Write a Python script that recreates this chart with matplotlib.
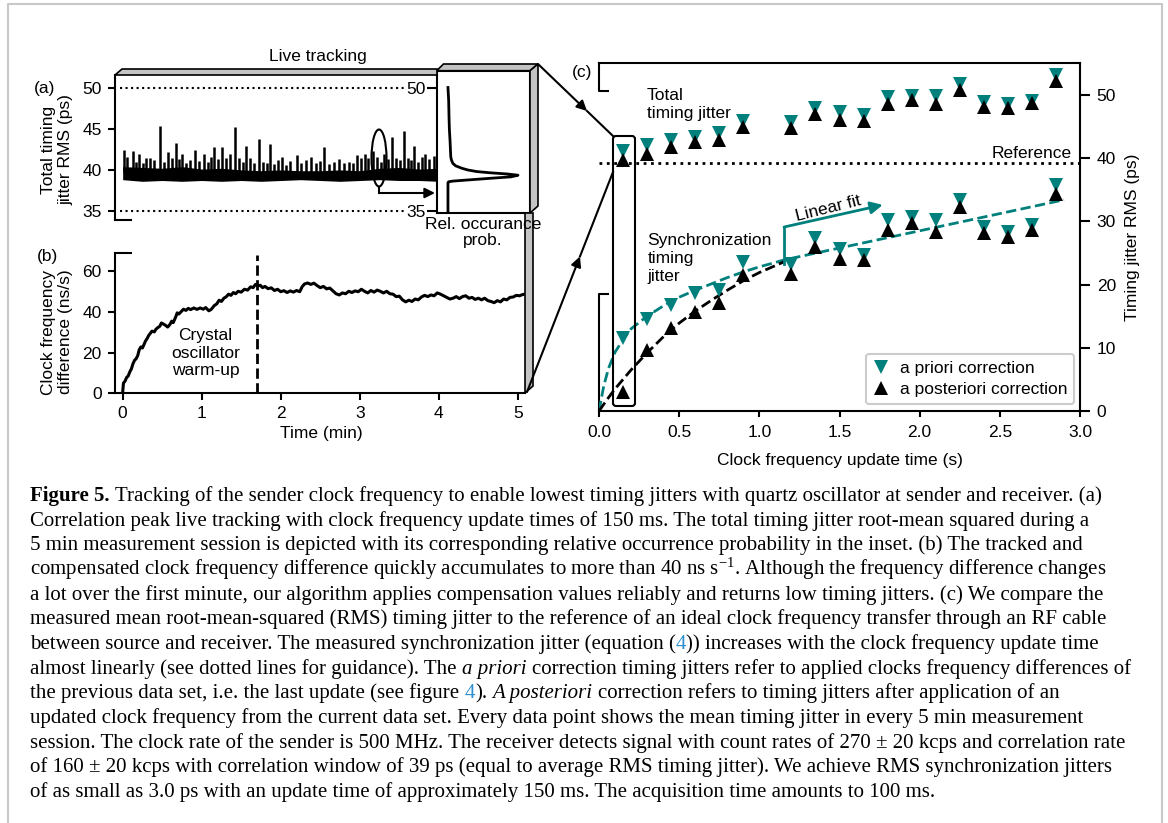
import matplotlib
matplotlib.use('Agg')
import matplotlib.pyplot as plt
from matplotlib.patches import Polygon, Ellipse, FancyBboxPatch

plt.rcParams['font.family'] = ['Liberation Sans', 'DejaVu Sans']
plt.rcParams['font.size'] = 12.5
plt.rcParams['axes.linewidth'] = 1.5
plt.rcParams['mathtext.fontset'] = 'custom'
plt.rcParams['mathtext.rm'] = 'Liberation Serif'
plt.rcParams['mathtext.it'] = 'Liberation Serif:italic'

TEAL = '#00807c'
GREY = '#c4c4c4'
LINK = '#2a8fd0'

# (a) live tracking, total timing jitter (ps) vs time (min)
spike_t = [0.02, 0.05, 0.13, 0.17, 0.21, 0.26, 0.30, 0.35, 0.40, 0.47, 0.52, 0.57, 0.62, 0.67, 0.71,
           0.75, 0.80, 0.85, 0.91, 0.96, 1.03, 1.08, 1.12, 1.16, 1.21, 1.26, 1.31, 1.36, 1.42, 1.47,
           1.52, 1.56, 1.61, 1.66, 1.72, 1.77, 1.82, 1.87, 1.92, 1.97, 2.02, 2.07, 2.12, 2.20, 2.26,
           2.32, 2.38, 2.44, 2.50, 2.55, 2.61, 2.67, 2.74, 2.80, 2.86, 2.92, 2.97, 3.02, 3.06, 3.11,
           3.17, 3.22, 3.27, 3.31, 3.36, 3.41, 3.46, 3.51, 3.56, 3.61, 3.65, 3.69, 3.74, 3.79, 3.83,
           3.88, 3.94, 4.10, 4.30, 4.50, 4.70, 4.90]
spike_v = [42.4, 41.6, 42.3, 41.0, 42.0, 40.9, 41.5, 41.4, 41.2, 45.4, 41.0, 42.2, 41.5, 43.3, 41.3,
           42.0, 40.8, 41.2, 42.4, 41.1, 42.0, 41.0, 41.6, 42.8, 41.3, 42.8, 41.5, 41.9, 45.2, 41.4,
           41.0, 42.9, 41.5, 40.8, 43.8, 41.0, 40.9, 43.2, 40.7, 41.2, 41.6, 40.6, 41.1, 41.8, 40.8,
           41.2, 41.6, 40.9, 41.1, 42.8, 40.7, 41.0, 41.3, 40.9, 41.0, 40.8, 41.8, 41.4, 41.9, 41.5,
           42.3, 41.6, 41.0, 42.0, 41.3, 44.0, 41.4, 41.2, 44.8, 41.5, 41.2, 42.9, 41.0, 41.6, 42.0,
           41.3, 41.7, 41.5, 41.8, 41.2, 41.6, 41.3]
band_t = [0.0, 0.25, 0.5, 0.75, 1.0, 1.25, 1.5, 1.75, 2.0, 2.25, 2.5, 2.75, 3.0, 3.25, 3.5, 3.75,
          4.0, 4.25, 4.5, 4.75, 5.0]
band_lo = [38.8, 38.6, 38.7, 38.6, 38.7, 38.6, 38.7, 38.6, 38.7, 38.8, 38.7, 38.6, 38.7, 38.8, 38.7,
           38.7, 38.6, 38.7, 38.7, 38.7, 38.7]
band_hi = [40.4, 40.3, 40.2, 40.4, 40.1, 40.2, 40.0, 39.9, 40.0, 39.9, 39.9, 40.0, 39.9, 40.2, 40.3,
           40.1, 40.2, 40.1, 40.1, 40.1, 40.1]

# inset: relative occurrence probability
hist_ps = [35.0, 38.45, 38.55, 38.63, 38.76, 38.97, 39.15, 39.35, 39.5, 39.65, 39.8, 40.0, 40.2,
           40.5, 40.8, 41.2, 41.6, 42.5, 43.5, 45.0, 46.5, 48.5, 50.1]
hist_p = [0.0, 0.0, 0.01, 0.07, 0.27, 0.6, 0.9, 1.0, 0.85, 0.6, 0.41, 0.28, 0.2, 0.11, 0.07, 0.05,
          0.04, 0.035, 0.03, 0.02, 0.015, 0.01, 0.0]

# (b) clock frequency difference (ns/s) vs time (min)
drift_t = [0.00, 0.01, 0.03, 0.05, 0.07, 0.09, 0.11, 0.13, 0.15, 0.17, 0.19, 0.21, 0.23, 0.25, 0.27,
           0.29, 0.31, 0.33, 0.35, 0.37, 0.40, 0.42, 0.44, 0.47, 0.49, 0.51, 0.54, 0.57, 0.60, 0.62,
           0.64, 0.67, 0.69, 0.71, 0.74, 0.77, 0.80, 0.83, 0.86, 0.90, 0.94, 0.98, 1.02, 1.05, 1.09,
           1.12, 1.16, 1.19, 1.22, 1.25, 1.28, 1.31, 1.34, 1.37, 1.40, 1.43, 1.46, 1.50, 1.54, 1.58,
           1.62, 1.65, 1.68, 1.71, 1.74, 1.77, 1.80, 1.84, 1.88, 1.92, 1.96, 2.00, 2.04, 2.08, 2.12,
           2.16, 2.20, 2.24, 2.27, 2.30, 2.34, 2.38, 2.42, 2.46, 2.50, 2.54, 2.58, 2.62, 2.66, 2.70,
           2.74, 2.78, 2.82, 2.86, 2.90, 2.94, 2.98, 3.02, 3.06, 3.10, 3.14, 3.18, 3.22, 3.26, 3.30,
           3.34, 3.38, 3.42, 3.46, 3.50, 3.54, 3.58, 3.62, 3.66, 3.70, 3.74, 3.78, 3.82, 3.86, 3.90,
           3.94, 3.98, 4.02, 4.06, 4.10, 4.14, 4.18, 4.22, 4.26, 4.30, 4.34, 4.38, 4.42, 4.46, 4.50,
           4.54, 4.58, 4.62, 4.66, 4.70, 4.74, 4.78, 4.82, 4.86, 4.90, 4.94, 4.98, 5.02, 5.06, 5.09]
drift_v = [0.5, 5.0, 6.0, 7.8, 8.5, 10.5, 12.0, 14.5, 16.2, 17.0, 18.5, 21.5, 22.8, 22.3, 24.0,
           25.8, 27.0, 28.5, 29.5, 30.6, 30.2, 31.5, 32.2, 33.0, 34.6, 34.2, 33.5, 32.6, 34.0, 35.5,
           34.8, 37.5, 39.6, 39.0, 40.2, 41.4, 40.8, 41.8, 41.2, 42.0, 41.3, 42.0, 41.4, 42.2, 40.6,
           41.3, 43.2, 44.0, 45.8, 45.2, 46.8, 47.5, 48.8, 48.2, 49.6, 49.0, 50.2, 49.8, 51.2, 50.8,
           52.4, 52.0, 53.6, 52.8, 53.2, 52.0, 52.6, 51.5, 51.9, 50.6, 51.2, 50.0, 50.5, 49.6, 50.4,
           49.8, 50.6, 50.0, 52.4, 53.8, 54.3, 53.6, 54.2, 53.0, 52.0, 52.6, 51.4, 51.8, 50.4, 49.0,
           48.4, 49.4, 49.0, 50.2, 49.6, 50.4, 50.0, 51.2, 50.2, 49.4, 50.6, 49.8, 50.8, 50.2, 49.4,
           50.2, 49.0, 48.8, 47.6, 47.8, 46.0, 45.0, 45.8, 45.2, 46.4, 46.0, 47.4, 48.2, 47.6, 48.4,
           48.0, 49.4, 48.8, 48.0, 47.2, 46.4, 46.8, 47.6, 46.6, 47.6, 48.0, 46.8, 47.2, 46.2, 46.8,
           46.0, 46.8, 45.6, 45.2, 44.6, 45.6, 45.0, 46.4, 46.0, 47.2, 47.4, 48.2, 48.0, 48.6, 48.8]
warmup_end = 1.7

# (c) timing jitter RMS (ps) vs clock frequency update time (s)
upd_t = [0.15, 0.30, 0.45, 0.60, 0.75, 0.90, 1.20, 1.35, 1.50, 1.65, 1.80, 1.95, 2.10, 2.25, 2.40,
         2.55, 2.70, 2.85]
tot_prior = [41.2, 42.1, 42.9, 43.4, 43.9, 45.9, 45.7, 48.0, 47.3, 46.8, 49.7, 49.9, 49.8, 51.8,
             48.9, 48.6, 49.1, 53.1]
tot_post = [39.7, 40.7, 41.7, 42.5, 42.9, 44.9, 44.8, 47.0, 46.1, 45.9, 48.6, 49.2, 48.6, 50.8,
            48.1, 48.0, 48.7, 52.2]
sync_prior = [11.6, 14.6, 16.7, 18.6, 19.1, 23.6, 23.3, 27.3, 25.7, 24.6, 30.2, 30.7, 30.2, 33.3,
              29.1, 28.3, 29.4, 35.7]
sync_post = [3.05, 9.6, 13.1, 15.7, 17.1, 21.5, 21.7, 26.0, 24.1, 23.9, 28.6, 29.7, 28.3, 32.2,
             28.2, 27.5, 28.6, 34.4]
reference = 39.3
guide_prior_x = [0, 0.03, 0.06, 0.1, 0.15, 0.2, 0.3, 0.4, 0.5, 0.6, 0.7, 0.8, 0.9, 1.0, 1.1, 1.154, 2.9]
guide_prior_y = [0, 4.0, 6.8, 9.3, 11.3, 13.0, 15.0, 16.6, 18.0, 19.1, 20.1, 21.1, 22.0, 22.8, 23.5,
                 23.9, 33.4]
guide_post_x = [0, 0.05, 0.1, 0.2, 0.3, 0.4, 0.5, 0.6, 0.7, 0.8, 0.9, 1.0, 1.1, 1.154]
guide_post_y = [0, 1.8, 3.5, 6.5, 9.2, 11.7, 13.9, 15.8, 17.5, 19.1, 20.6, 21.9, 23.0, 23.6]

caption = [
    [("Figure 5.", "b"), (" Tracking of the sender clock frequency to enable lowest timing jitters with quartz oscillator at sender and receiver. (a)", "n")],
    [("Correlation peak live tracking with clock frequency update times of 150 ms. The total timing jitter root-mean squared during a", "n")],
    [("5 min measurement session is depicted with its corresponding relative occurrence probability in the inset. (b) The tracked and", "n")],
    [("compensated clock frequency difference quickly accumulates to more than 40 ns s$^{-1}$. Although the frequency difference changes", "n")],
    [("a lot over the first minute, our algorithm applies compensation values reliably and returns low timing jitters. (c) We compare the", "n")],
    [("measured mean root-mean-squared (RMS) timing jitter to the reference of an ideal clock frequency transfer through an RF cable", "n")],
    [("between source and receiver. The measured synchronization jitter (equation (", "n"), ("4", "l"), (")) increases with the clock frequency update time", "n")],
    [("almost linearly (see dotted lines for guidance). The ", "n"), ("a priori", "i"), (" correction timing jitters refer to applied clocks frequency differences of", "n")],
    [("the previous data set, i.e. the last update (see figure ", "n"), ("4", "l"), (").", "n"), (" A posteriori", "i"), (" correction refers to timing jitters after application of an", "n")],
    [("updated clock frequency from the current data set. Every data point shows the mean timing jitter in every 5 min measurement", "n")],
    [("session. The clock rate of the sender is 500 MHz. The receiver detects signal with count rates of 270 \u00b1 20 kcps and correlation rate", "n")],
    [("of 160 \u00b1 20 kcps with correlation window of 39 ps (equal to average RMS timing jitter). We achieve RMS synchronization jitters", "n")],
    [("of as small as 3.0 ps with an update time of approximately 150 ms. The acquisition time amounts to 100 ms.", "n")],
]

W, H = 1168, 823
fig = plt.figure(figsize=(W / 100, H / 100), dpi=100)


def box(l, t, r, b):
    return fig.add_axes([l / W, 1 - b / H, (r - l) / W, (b - t) / H])


# panel (a)
ax_a = box(115, 75, 525, 220)
ax_a.patch.set_visible(False)
ax_a.set_xlim(-0.097, 5.09)
ax_a.set_ylim(33.86, 51.63)
ax_a.spines['top'].set_visible(False)
ax_a.spines['right'].set_visible(False)
ax_a.spines['bottom'].set_bounds(-0.097, 0.105)
ax_a.set_xticks([])
ax_a.set_yticks([35, 40, 45, 50])
ax_a.tick_params(axis='y', length=5, width=1.5, pad=4.5)
ax_a.fill_between(band_t, band_lo, band_hi, color='k', lw=0)
ax_a.vlines(spike_t, 39.6, spike_v, color='k', lw=1.8)
ax_a.plot([-0.034, 3.57], [50, 50], ':', color='k', lw=1.5)
ax_a.plot([-0.034, 3.57], [35, 35], ':', color='k', lw=1.5)

ax_in = box(436.7, 70.7, 530, 213)
ax_in.set_xlim(-0.161, 1.172)
ax_in.set_ylim(34.72, 52.16)
ax_in.set_xticks([])
ax_in.set_yticks([35, 50])
ax_in.tick_params(axis='y', length=7, width=1.5, pad=1)
ax_in.plot(hist_p, hist_ps, color='k', lw=2)

# panel (b)
ax_b = box(115, 252.7, 525, 393.3)
ax_b.patch.set_visible(False)
ax_b.set_xlim(-0.097, 5.09)
ax_b.set_ylim(0, 69.2)
ax_b.spines['top'].set_visible(False)
ax_b.spines['right'].set_visible(False)
ax_b.set_xticks([0, 1, 2, 3, 4, 5])
ax_b.set_yticks([0, 20, 40, 60])
ax_b.tick_params(length=5, width=1.5, pad=4.5)
ax_b.plot(drift_t, drift_v, color='k', lw=2.2)
ax_b.plot([warmup_end, warmup_end], [0, 68], '--', color='k', lw=2)
ax_b.plot([-0.097, 0.105], [69.2, 69.2], color='k', lw=1.5, clip_on=False)
ax_b.text(1.05, 19.7, 'Crystal\noscillator\nwarm-up', ha='center', va='center')

# panel (c)
ax_c = box(599, 63.3, 1080, 411)
ax_c.set_xlim(0, 3)
ax_c.set_ylim(0, 55)
ax_c.spines['left'].set_visible(False)
ax_c.yaxis.tick_right()
ax_c.set_xticks([0, 0.5, 1.0, 1.5, 2.0, 2.5, 3.0])
ax_c.set_yticks([0, 10, 20, 30, 40, 50])
ax_c.tick_params(axis='y', length=7, width=1.5, pad=5)
ax_c.tick_params(axis='x', length=4, width=1.5, pad=6)
ax_c.plot([0.056, 0, 0], [50.67, 50.67, 55], color='k', lw=1.5, clip_on=False)
ax_c.plot([0.056, 0, 0], [18.5, 18.5, 0], color='k', lw=1.5, clip_on=False)
ax_c.plot([0, 3], [reference, reference], ':', color='k', lw=2)
ax_c.text(2.949, 39.6, 'Reference', ha='right', va='bottom')
ax_c.plot(guide_prior_x, guide_prior_y, '--', color=TEAL, lw=2)
ax_c.plot(guide_post_x, guide_post_y, '--', color='k', lw=2)
ax_c.plot(upd_t, tot_prior, 'v', color=TEAL, ms=10, mew=0, ls='none', label='a priori correction')
ax_c.plot(upd_t, sync_prior, 'v', color=TEAL, ms=10, mew=0, ls='none')
ax_c.plot(upd_t, tot_post, '^', color='k', ms=10, mew=0, ls='none', label='a posteriori correction')
ax_c.plot(upd_t, sync_post, '^', color='k', ms=10, mew=0, ls='none')
ax_c.plot([1.154, 1.154], [23.3, 29.1], color=TEAL, lw=2)
ax_c.annotate('', xy=(1.77, 32.6), xytext=(1.154, 29.1),
              arrowprops=dict(arrowstyle='-|>', color=TEAL, lw=2, mutation_scale=18, shrinkA=0, shrinkB=0))
ax_c.text(1.433, 32.0, 'Linear fit', rotation=14, ha='center', va='center', rotation_mode='anchor')
ax_c.text(0.30, 48.5, 'Total\ntiming jitter', ha='left', va='center', linespacing=1.25)
ax_c.text(0.302, 24.1, 'Synchronization\ntiming\njitter', ha='left', va='center', linespacing=1.25)
leg = ax_c.legend(loc='lower right', bbox_to_anchor=(0.9875, 0.02), borderaxespad=0, numpoints=1,
                  fancybox=True, edgecolor='#cccccc', framealpha=1, handlelength=1.0,
                  handletextpad=0.55, borderpad=0.4, labelspacing=0.35)
leg.get_frame().set_linewidth(1.5)

# overlay in figure pixels: 3d boxes, connectors, labels and caption
ov = fig.add_axes([0, 0, 1, 1])
ov.set_xlim(0, W)
ov.set_ylim(H, 0)
ov.axis('off')

ov.plot([8, 8, 1162, 1162], [823, 4, 4, 823], color='#c8c8c8', lw=1.5)
for pts in ([(115, 75), (122, 69), (437, 69), (437, 75)],
            [(525, 213), (533, 213), (533, 386), (525, 393)],
            [(436.7, 70.7), (443.5, 64), (538, 64), (530, 70.7)],
            [(530, 70.7), (538, 64), (538, 206), (530, 213)]):
    ov.add_patch(Polygon(pts, closed=True, facecolor=GREY, edgecolor='k', lw=1.2))

ov.add_patch(Ellipse((379, 158), 15, 57, fill=False, lw=1.5))
ov.plot([379, 379], [187, 193], color='k', lw=1.5)
ov.annotate('', xy=(435, 193), xytext=(379, 193),
            arrowprops=dict(arrowstyle='-|>', color='k', lw=1.5, mutation_scale=15, shrinkA=0, shrinkB=0))

ov.annotate('', xy=(587, 111), xytext=(538, 64),
            arrowprops=dict(arrowstyle='-|>', color='k', lw=1.5, mutation_scale=15, shrinkA=0, shrinkB=0))
ov.plot([587, 613], [111, 136], color='k', lw=1.5)
ov.annotate('', xy=(580, 256.4), xytext=(527, 392),
            arrowprops=dict(arrowstyle='-|>', color='k', lw=1.5, mutation_scale=15, shrinkA=0, shrinkB=0))
ov.plot([580, 613], [256.4, 172], color='k', lw=1.5)
ov.add_patch(FancyBboxPatch((613, 136), 22, 270, boxstyle='round,pad=0,rounding_size=3',
                            fill=False, lw=1.5))

ov.text(318, 56, 'Live tracking', ha='center', va='center')
ov.text(483, 224, 'Rel. occurance', ha='center', va='center')
ov.text(483, 240, 'prob.', ha='center', va='center')
ov.text(45, 88, '(a)', ha='center', va='center')
ov.text(47, 257, '(b)', ha='center', va='center')
ov.text(582, 72, '(c)', ha='center', va='center')
ov.text(57, 150, 'Total timing\njitter RMS (ps)', rotation=90, ha='center', va='center')
ov.text(57, 332, 'Clock frequency\ndifference (ns/s)', rotation=90, ha='center', va='center')
ov.text(321, 433, 'Time (min)', ha='center', va='center')
ov.text(840, 460, 'Clock frequency update time (s)', ha='center', va='center')
ov.text(1133, 237, 'Timing jitter RMS (ps)', rotation=90, ha='center', va='center')

renderer = fig.canvas.get_renderer()
SERIF = ['Liberation Serif', 'DejaVu Serif']


def seg_kw(style, size):
    kw = dict(fontsize=size, family=SERIF, va='baseline', ha='left')
    if style == 'b':
        kw['weight'] = 'bold'
    if style == 'i':
        kw['style'] = 'italic'
    if style == 'l':
        kw['color'] = LINK
    return kw


def width(s, style, size):
    t = ov.text(0, 0, s, **seg_kw(style, size))
    w = t.get_window_extent(renderer=renderer).width
    t.remove()
    return w


def draw_line(segs, x, y, size, draw=True):
    sp = width('n n', 'n', size) - width('nn', 'n', size)
    for s, style in segs:
        lead = len(s) - len(s.lstrip(' '))
        trail = len(s) - len(s.rstrip(' '))
        core = s.strip(' ')
        x += lead * sp
        w = width(core, style, size)
        if draw:
            ov.text(x, y, core, **seg_kw(style, size))
        x += w + trail * sp
    return x


widest = max(draw_line(segs, 0, 0, 10, draw=False) for segs in caption)
cap_size = 10 * 1100 / widest
for i, segs in enumerate(caption):
    draw_line(segs, 30, 501 + 24.67 * i, cap_size)

fig.savefig('out.png', dpi=100)
